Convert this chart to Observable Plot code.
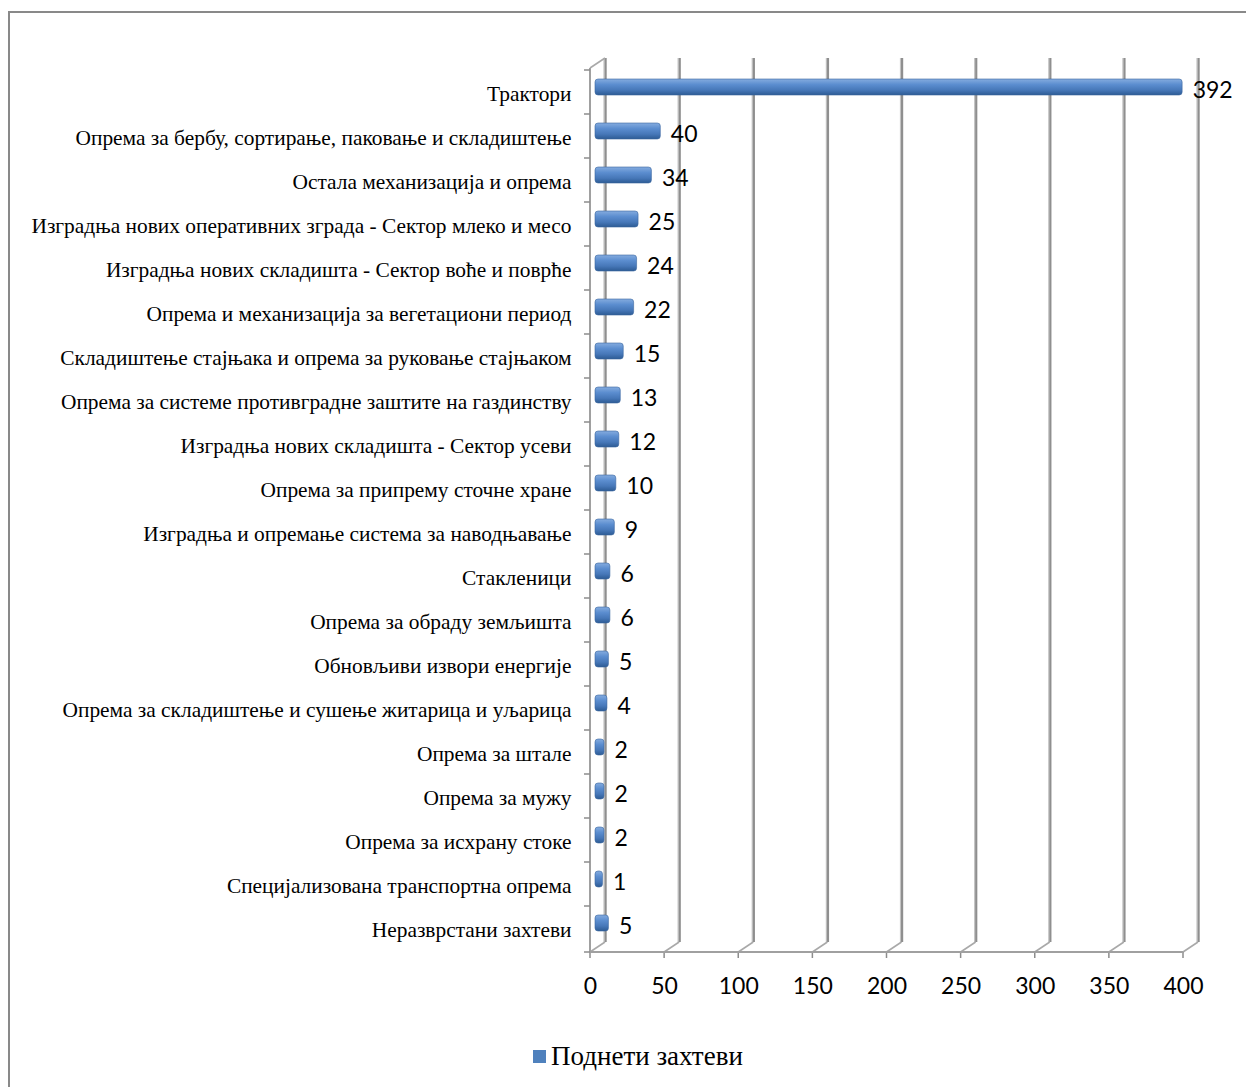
<!DOCTYPE html>
<html>
<head>
<meta charset="utf-8">
<script src="https://cdn.jsdelivr.net/npm/d3@7"></script>
<script src="https://cdn.jsdelivr.net/npm/@observablehq/plot@0.6"></script>
<style>
  html, body { margin: 0; padding: 0; background: #fff; }
  body { width: 1246px; height: 1087px; overflow: hidden; position: relative; }
  #border { position: absolute; left: 8px; top: 11px; width: 1400px; height: 1200px;
    border-top: 2px solid #898989; border-left: 2px solid #898989; box-sizing: border-box; }
  #chart { position: absolute; left: 0; top: 0; }
  #legend { position: absolute; left: 533px; top: 1040px; display: flex; align-items: center;
    font-family: "Liberation Serif", "Times New Roman", serif; font-size: 27px; line-height: 32px; color: #000; }
  #legend .sw { width: 13px; height: 13px; background: #4f81bd; margin-right: 5px; }
</style>
</head>
<body>
<div id="border"></div>
<div id="chart"></div>
<div id="legend"><span class="sw"></span><span id="legend-label"></span></div>
<script>
const categories = [
  "Трактори",
  "Опрема за бербу, сортирање, паковање и складиштење",
  "Остала механизација и опрема",
  "Изградња нових оперативних зграда - Сектор млеко и месо",
  "Изградња нових складишта - Сектор воће и поврће",
  "Опрема и механизација за вегетациони период",
  "Складиштење стајњака и опрема за руковање стајњаком",
  "Опрема за системе противградне заштите на газдинству",
  "Изградња нових складишта - Сектор усеви",
  "Опрема за припрему сточне хране",
  "Изградња и опремање система за наводњавање",
  "Стакленици",
  "Опрема за обраду земљишта",
  "Обновљиви извори енергије",
  "Опрема за складиштење и сушење житарица и уљарица",
  "Опрема за штале",
  "Опрема за мужу",
  "Опрема за исхрану стоке",
  "Специјализована транспортна опрема",
  "Неразврстани захтеви"
];
const values = [392, 40, 34, 25, 24, 22, 15, 13, 12, 10, 9, 6, 6, 5, 4, 2, 2, 2, 1, 5];
const xTicks = [0, 50, 100, 150, 200, 250, 300, 350, 400];
const seriesName = "Поднети захтеви";

const data = categories.map((c, i) => ({category: c, value: values[i]}));

const depthX = 15, depthY = -10;

function frame3d(index, scales, vals, dims) {
  const x = scales.x, y = scales.y;
  const top = dims.marginTop, bottom = dims.height - dims.marginBottom;
  const g = d3.create("svg:g").attr("fill", "none").attr("stroke-linecap", "butt");
  const x0 = x(0);
  const line = (x1, y1, x2, y2, stroke, w) =>
    g.append("line").attr("x1", x1).attr("y1", y1).attr("x2", x2).attr("y2", y2)
      .attr("stroke", stroke).attr("stroke-width", w);
  for (const t of xTicks) {
    const xt = x(t);
    line(xt + depthX - 1, top + depthY, xt + depthX - 1, bottom + depthY, "#c4c4c4", 1.2);
    line(xt + depthX + 0.6, top + depthY, xt + depthX + 0.6, bottom + depthY, "#8f8f8f", 2.2);
    line(xt, bottom, xt + depthX, bottom + depthY, "#a9a9a9", 1.6);
    line(xt, bottom, xt, bottom + 6, "#8c8c8c", 1.5);
  }
  line(x0, bottom, x(400), bottom, "#a0a0a0", 2);
  line(x0, top, x0, bottom, "#a0a0a0", 2);
  line(x0, top, x0 + depthX, top + depthY, "#a9a9a9", 1.6);
  for (const c of categories) {
    const yy = y(c);
    line(x0 - 6, yy, x0, yy, "#8c8c8c", 1.5);
  }
  line(x0 - 6, bottom, x0, bottom, "#8c8c8c", 1.5);
  return g.node();
}

const chart = Plot.plot({
  width: 1246,
  height: 1030,
  marginLeft: 590,
  marginRight: 63,
  marginTop: 68,
  marginBottom: 78,
  style: {background: "transparent", color: "#000", overflow: "visible"},
  x: {domain: [0, 400], axis: null},
  y: {domain: categories, axis: null, padding: 0},
  marks: [
    frame3d,
    Plot.barX(data, {
      x: "value", y: "category",
      fill: "url(#barGrad)",
      stroke: "#3a679f", strokeWidth: 0.6,
      insetTop: 14, insetBottom: 14,
      insetRight: -6,
      dx: 5, dy: -5, rx: 3
    }),
    Plot.text(data, {
      x: "value", y: "category",
      text: d => String(d.value),
      textAnchor: "start", dx: 21, dy: -2,
      fontSize: 23, fontFamily: "Lato, 'Open Sans', sans-serif", fill: "#000"
    }),
    Plot.axisY({
      tickSize: 0, tickPadding: 19, label: null, dy: 2,
      fontSize: 21.4, fontFamily: "'Liberation Serif', 'Times New Roman', serif"
    }),
    Plot.axisX({
      ticks: xTicks, tickSize: 0, tickPadding: 25, label: null,
      fontSize: 23, fontFamily: "Lato, 'Open Sans', sans-serif"
    })
  ]
});

const defs = d3.select(chart).insert("defs", ":first-child");
const grad = defs.append("linearGradient").attr("id", "barGrad")
  .attr("x1", 0).attr("y1", 0).attr("x2", 0).attr("y2", 1);
grad.append("stop").attr("offset", "0%").attr("stop-color", "#85acdf");
grad.append("stop").attr("offset", "35%").attr("stop-color", "#5b8dcf");
grad.append("stop").attr("offset", "70%").attr("stop-color", "#4677b8");
grad.append("stop").attr("offset", "100%").attr("stop-color", "#2d5b94");

document.getElementById("chart").appendChild(chart);
document.getElementById("legend-label").textContent = seriesName;
</script>
</body>
</html>
